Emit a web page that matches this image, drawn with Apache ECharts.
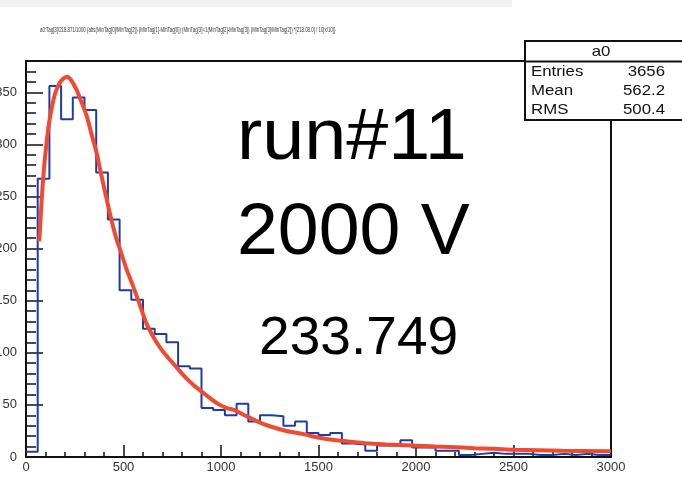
<!DOCTYPE html>
<html>
<head>
<meta charset="utf-8">
<script src="https://cdn.jsdelivr.net/npm/echarts@6/dist/echarts.min.js"></script>
<style>
html,body{margin:0;padding:0;background:#fff;}
#c{width:682px;height:477px;}
</style>
</head>
<body>
<div id="c"></div>
<script>
// ---- data ----
const titleText = "a0:Tag[3]/218.871/1000 {abs(MinTag[0]/MinTag[2])-(MinTag[1]-MinTag[0]) (MinTag[3]<1(MinTag[2]-MinTag[3]) (MinTag[3]/MinTag[2]) *[218.08.0] / 10[x/10]}";
const histName = "a0";
const statsLabels = ["Entries", "Mean", "RMS"];
const statsValues = ["3656", "562.2", "500.4"];
const bigTexts = ["run#11", "2000 V", "233.749"];

const xMin = 0, xMax = 3000, binWidth = 60;
const xLabelTicks = [0, 500, 1000, 1500, 2000, 2500, 3000];
const yLabelTicks = [0, 50, 100, 150, 200, 250, 300, 350];
const yMax = 380;

// counts per 60-unit bin, 0..3000
const histCounts = [
  5, 267, 356, 324, 345, 333, 273, 228, 160, 151,
  123, 118, 110, 87, 85, 47, 45, 40, 51, 34,
  40, 39, 30, 34, 23, 21, 23, 13, 12, 6,
  11, 11, 16, 9, 9, 6, 6, 2, 3, 4,
  3, 3, 3, 2, 2, 3, 2, 3, 2, 2
];

// fitted curve
const fitX = [68, 80, 90, 100, 114, 130, 148, 170, 190, 210, 230, 260, 290, 310, 340, 362, 380, 413, 440, 464,
  481, 516, 549, 580, 618, 660, 695, 730, 763, 800, 831, 865, 900, 940, 985, 1030, 1070, 1110, 1156, 1200,
  1250, 1335, 1420, 1505, 1591, 1676, 1762, 1847, 1983, 2100, 2171, 2300, 2400, 2500, 2750, 3000];
const fitY = [207, 245, 272, 292, 315, 333, 348, 358, 363, 365, 362, 352, 338, 328, 307, 292, 276, 248, 226, 209,
  200, 180, 164, 148, 128, 113, 103, 95, 88, 80, 74, 68, 63, 57, 51, 47, 45, 41, 37, 33,
  29.5, 25, 22, 18.5, 16, 14.5, 13, 12, 11, 10, 9.6, 8.5, 8, 7, 6, 5.5];

// ---- build series ----
const histLine = [];
histCounts.forEach((v, i) => {
  const lo = xMin + i * binWidth, hi = lo + binWidth;
  histLine.push([lo, v]);
  histLine.push([hi, v]);
});
const fitLine = fitX.map((x, i) => [x, fitY[i]]);

const FONT = '"Liberation Sans", Arial, Helvetica, sans-serif';
const chart = echarts.init(document.getElementById('c'), null, {renderer: 'canvas'});

const G = {left: 26, top: 61, right: 71, bottom: 20};

chart.setOption({
  animation: false,
  backgroundColor: '#fff',
  grid: {left: G.left, top: G.top, right: G.right, bottom: G.bottom, show: true,
    containLabel: false, outerBoundsMode: 'none',
    borderColor: '#111', borderWidth: 2, backgroundColor: 'transparent'},
  xAxis: [
    {type: 'value', min: xMin, max: xMax, interval: 100,
      axisLine: {show: true, onZero: false, lineStyle: {color: '#111', width: 2}},
      axisTick: {show: true, inside: true, length: 5, lineStyle: {color: '#111', width: 1.5}},
      axisLabel: {margin: 4, fontSize: 13, color: '#333', fontFamily: FONT,
        formatter: v => xLabelTicks.indexOf(v) >= 0 ? String(v) : ''},
      splitLine: {show: false}},
    {type: 'value', min: xMin, max: xMax, interval: 500, position: 'bottom', offset: 0,
      axisLine: {show: false},
      axisTick: {show: true, inside: true, length: 12, lineStyle: {color: '#111', width: 1.5}},
      axisLabel: {show: false}, splitLine: {show: false}}
  ],
  yAxis: [
    {type: 'value', min: 0, max: yMax, interval: 10,
      axisLine: {show: true, onZero: false, lineStyle: {color: '#111', width: 2}},
      axisTick: {show: true, inside: true, length: 10, lineStyle: {color: '#111', width: 1.5}},
      axisLabel: {margin: 9, fontSize: 13, color: '#333', fontFamily: FONT,
        formatter: v => yLabelTicks.indexOf(v) >= 0 ? String(v) : ''},
      splitLine: {show: false}},
    {type: 'value', min: 0, max: yMax, interval: 50, position: 'left', offset: 0,
      axisLine: {show: false},
      axisTick: {show: true, inside: true, length: 17, lineStyle: {color: '#111', width: 1.5}},
      axisLabel: {show: false}, splitLine: {show: false}}
  ],
  series: [
    {type: 'line', name: 'hist', xAxisIndex: 0, yAxisIndex: 0, data: histLine,
      showSymbol: false, symbol: 'none', lineStyle: {color: '#1e3ca8', width: 2}, z: 3},
    {type: 'line', name: 'fit', xAxisIndex: 0, yAxisIndex: 0, data: fitLine,
      showSymbol: false, symbol: 'none', smooth: 0.3, lineStyle: {color: '#f04a30', width: 4}, z: 4}
  ],
  graphic: [
    {type: 'rect', shape: {x: 0, y: 0, width: 512, height: 7}, style: {fill: '#f2f2f2'}, z: 1},
    {type: 'text', x: 40, y: 30, z: 10, scaleX: 0.67,
      style: {text: titleText, font: '6.5px ' + FONT, fill: '#333', textVerticalAlign: 'middle'}},
    {type: 'rect', shape: {x: 525, y: 41, width: 170, height: 79}, z: 20,
      style: {fill: '#fff', stroke: '#111', lineWidth: 2}},
    {type: 'line', shape: {x1: 525, y1: 61.5, x2: 690, y2: 61.5}, z: 21, style: {stroke: '#111', lineWidth: 2}},
    {type: 'text', x: 601, y: 51.5, z: 22, scaleX: 1.12,
      style: {text: histName, font: '15px ' + FONT, fill: '#111', textAlign: 'center', textVerticalAlign: 'middle'}},
    ...statsLabels.map((t, i) => ({type: 'text', x: 531, y: 72 + i * 19, z: 22, scaleX: 1.12,
      style: {text: t, font: '15px ' + FONT, fill: '#111', textAlign: 'left', textVerticalAlign: 'middle'}})),
    ...statsValues.map((t, i) => ({type: 'text', x: 665, y: 72 + i * 19, z: 22, scaleX: 1.12,
      style: {text: t, font: '15px ' + FONT, fill: '#111', textAlign: 'right', textVerticalAlign: 'middle'}})),
    {type: 'text', x: 237, y: 139, z: 15, scaleX: 1.05,
      style: {text: bigTexts[0], font: '72px ' + FONT, fill: '#000', textVerticalAlign: 'middle'}},
    {type: 'text', x: 237, y: 234, z: 15, scaleX: 1.02,
      style: {text: bigTexts[1], font: '72px ' + FONT, fill: '#000', textVerticalAlign: 'middle'}},
    {type: 'text', x: 259, y: 339, z: 15, scaleX: 1.04,
      style: {text: bigTexts[2], font: '53px ' + FONT, fill: '#000', textVerticalAlign: 'middle'}}
  ]
});
</script>
</body>
</html>
